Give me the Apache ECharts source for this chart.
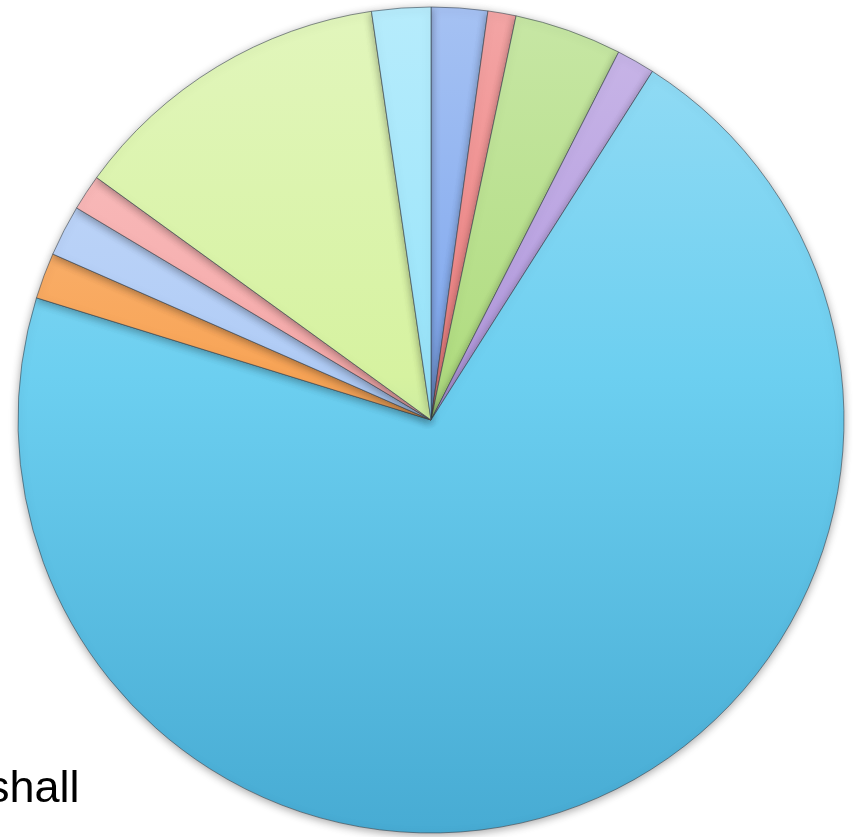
<!DOCTYPE html>
<html>
<head>
<meta charset="utf-8">
<script src="https://cdn.jsdelivr.net/npm/echarts@6/dist/echarts.min.js"></script>
<style>html,body{margin:0;padding:0;background:#fff;}#c{width:853px;height:837px;}</style>
</head>
<body>
<div id="c"></div>
<script>
const categories = ['Item 1','Item 2','Item 3','Item 4','Item 5','Item 6','Item 7','Item 8','Item 9','Item 10'];
const values = [2.2, 1.1, 4.2, 1.5, 70.7, 1.8, 2.0, 1.4, 12.7, 2.3];
const sliceColors = ['#80a8ee','#ee8080','#b0dc80','#b39ade','#6ccff0','#f8a456','#b0ccf6','#f6aaaa','#d6f2a0','#98e4fa'];
const footText = 'shall';

function mix(hex, target, f) {
  const n = parseInt(hex.slice(1), 16);
  const t = parseInt(target.slice(1), 16);
  const c = [16, 8, 0].map(s => {
    const a = (n >> s) & 255, b = (t >> s) & 255;
    return Math.round(a + (b - a) * f);
  });
  return 'rgb(' + c.join(',') + ')';
}
function grad(hex) {
  return {
    type: 'linear', x: 0, y: 0, x2: 0, y2: 837, global: true,
    colorStops: [
      { offset: 0, color: mix(hex, '#ffffff', 0.3) },
      { offset: 0.45, color: hex },
      { offset: 1, color: mix(hex, '#1a7fb0', 0.45) }
    ]
  };
}

const chart = echarts.init(document.getElementById('c'), null, { renderer: 'canvas' });
chart.setOption({
  animation: false,
  backgroundColor: '#ffffff',
  series: [{
    type: 'pie',
    center: [431, 420],
    radius: [0, 413],
    startAngle: 90,
    clockwise: true,
    label: { show: false },
    labelLine: { show: false },
    emphasis: { disabled: true },
    itemStyle: {
      borderColor: 'rgba(60,70,80,0.6)',
      borderWidth: 1,
      shadowBlur: 8,
      shadowColor: 'rgba(0,0,0,0.35)',
      shadowOffsetY: 2
    },
    data: categories.map((c, i) => ({
      name: c,
      value: values[i],
      itemStyle: { color: grad(sliceColors[i]) }
    }))
  }],
  graphic: [{
    type: 'text',
    left: -13,
    top: 767,
    style: {
      text: footText,
      font: '45px "Liberation Sans", Arial, sans-serif',
      fill: '#000'
    }
  }]
});
</script>
</body>
</html>
